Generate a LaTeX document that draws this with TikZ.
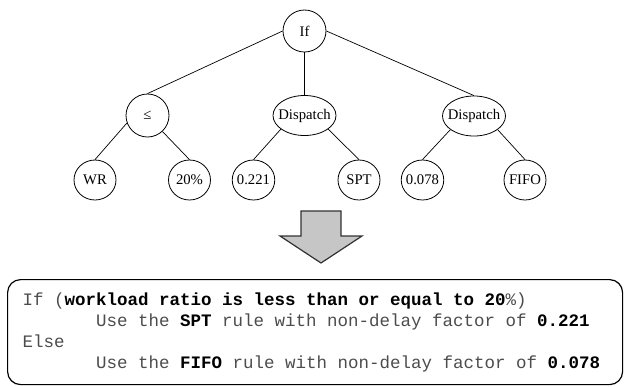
\documentclass[tikz,border=0pt]{standalone}
\usepackage{fontspec}
\setmainfont{Liberation Serif}
\setmonofont{Liberation Mono}
\usetikzlibrary{shapes.geometric}

\definecolor{arrowfill}{RGB}{198,198,198}
\definecolor{arrowline}{RGB}{50,50,50}
\newcommand{\kw}[1]{\textcolor{black}{\bfseries #1}}
\newcommand{\codeindent}{\hspace*{73.5pt}}
\newcommand{\codespacing}{\frenchspacing\spaceskip=10.5pt\relax}

\begin{document}
\begin{tikzpicture}[
	x=1pt,y=-1pt,
	tree/.style={
		draw,
		ellipse,
		line width=0.8pt,
		inner xsep=-1.5pt,
		inner ysep=0pt,
		minimum width=42pt,
		minimum height=40pt,
		font=\fontsize{14.7}{16}\selectfont
	},
	op/.style={tree,minimum width=43pt,minimum height=43pt},
	disp/.style={tree,inner xsep=-4pt,minimum width=63pt,minimum height=40pt},
	link/.style={line width=0.7pt},
	rulebox/.style={
		draw,
		rounded corners=13pt,
		line width=1.2pt,
		anchor=north west,
		minimum height=105pt,
		inner xsep=15pt,
		text width=585pt,
		align=left,
		text=black!70,
		font=\ttfamily\fontsize{17.5}{21}\selectfont
	}
	]
	
	\useasboundingbox (0,0) rectangle (624,386);
	
	\node[tree,minimum width=43pt,minimum height=42pt] (if) at (304.5,31) {If};
	
	\node[op] (le) at (147.5,115.5) {≤};
	\node[disp] (d1) at (304.5,115.5) {Dispatch};
	\node[disp] (d2) at (474,116) {Dispatch};
	
	\node[tree] (wr) at (95,180) {WR};
	\node[tree] (tw) at (189.5,180) {20\%};
	\node[tree] (a1) at (253.5,180) {0.221};
	\node[tree] (spt) at (359,180) {SPT};
	\node[tree] (a2) at (422.5,180) {0.078};
	\node[tree] (fifo) at (525,180) {FIFO};
	
	\draw[link] (if.west)--(le.north);
	\draw[link] (if.south)--(d1.north);
	\draw[link] (if.east)--(d2.north);
	
	\draw[link] (le.200)--(wr.north);
	\draw[link] (le.-47)--(tw.north);
	\draw[link] (d1.210)--(a1.north);
	\draw[link] (d1.-30)--(spt.north);
	\draw[link] (d2.210)--(a2.north);
	\draw[link] (d2.-30)--(fifo.north);
	
	\draw[fill=arrowfill,draw=arrowline,line width=1.2pt,line join=miter]
	(301,211)--(341,211)--(341,236)--(362,236)--(321,263)--(280,236)--(301,236)--cycle;
	
	\node[rulebox] (rule) at (7,279) {\codespacing If (\kw{workload ratio is less than or equal to 20}\%)\\
		\codeindent Use the \kw{SPT} rule with non-delay factor of \kw{0.221}\\
		Else\\
		\codeindent Use the \kw{FIFO} rule with non-delay factor of \kw{0.078}};
	
\end{tikzpicture}
\end{document}
